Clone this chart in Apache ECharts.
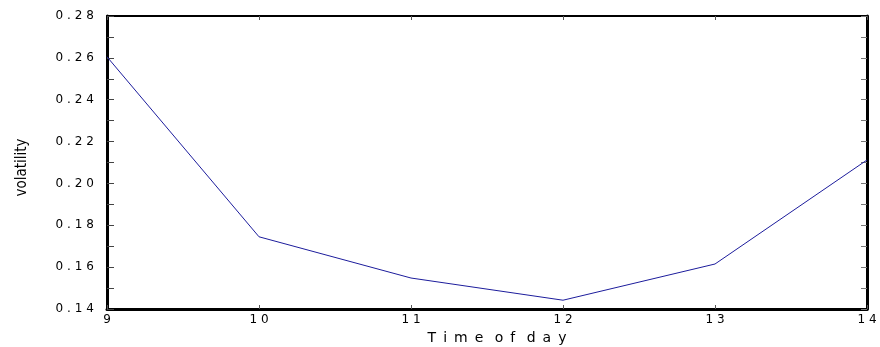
<!DOCTYPE html>
<html>
<head>
<meta charset="utf-8">
<script src="https://cdn.jsdelivr.net/npm/echarts@6/dist/echarts.min.js"></script>
<style>
  html, body { margin: 0; padding: 0; background: #fff; }
  #chart { width: 880px; height: 347px; }
</style>
</head>
<body>
<div id="chart"></div>
<script>
// hours of the day and the volatility
const hours = [9, 10, 11, 12, 13, 14];
const volatility = [0.2605, 0.1745, 0.1548, 0.1442, 0.1615, 0.2112];
const yTicks = [0.14, 0.16, 0.18, 0.20, 0.22, 0.24, 0.26, 0.28];

// the original uses very wide letter spacing
const spaced = (s, gap) => String(s).split(' ').map(w => w.split('').join(gap)).join(gap + ' ');
const labelFont = { fontFamily: 'DejaVu Sans', fontSize: 12, color: '#000' };

const chart = echarts.init(document.getElementById('chart'));

const option = {
  animation: false,
  grid: { left: 107, right: 13, top: 16, bottom: 38, outerBoundsMode: 'none', containLabel: false },
  xAxis: [
    {
      type: 'value',
      min: 9, max: 14, interval: 1,
      name: spaced('Time of day', '\u2002'),
      nameLocation: 'middle',
      nameGap: 22,
      nameTextStyle: { fontFamily: 'DejaVu Sans', fontSize: 14, color: '#000', padding: [0, 0, 0, 20] },
      axisLine: { show: true, onZero: false, lineStyle: { color: '#000', width: 3 } },
      axisTick: { show: true, inside: true, length: 4, lineStyle: { color: '#555' } },
      axisLabel: Object.assign({ margin: 5, formatter: v => spaced(v, '\u2004') }, labelFont),
      splitLine: { show: false }
    },
    {
      type: 'value', position: 'top',
      min: 9, max: 14, interval: 1,
      axisLine: { show: true, onZero: false, lineStyle: { color: '#000', width: 2 } },
      axisTick: { show: true, inside: true, length: 4, lineStyle: { color: '#555' } },
      axisLabel: { show: false },
      splitLine: { show: false }
    }
  ],
  yAxis: [
    {
      type: 'value',
      min: 0.14, max: 0.28, interval: 0.02,
      name: 'volatility',
      nameLocation: 'middle',
      nameGap: 77,
      nameRotate: 90,
      nameTextStyle: { fontFamily: "'Liberation Sans Narrow', 'DejaVu Sans Condensed', sans-serif", fontSize: 15, color: '#000', padding: [0, 10, 0, 0] },
      axisLine: { show: true, onZero: false, lineStyle: { color: '#000', width: 3 } },
      axisTick: { show: true, inside: true, length: 7, lineStyle: { color: '#444' } },
      minorTick: { show: true, splitNumber: 2, length: 7, lineStyle: { color: '#444' } },
      axisLabel: Object.assign({
        margin: 13,
        formatter: v => {
          const t = yTicks.find(x => Math.abs(x - v) < 1e-6);
          return t === undefined ? '' : spaced(t.toFixed(2), '\u2004');
        }
      }, labelFont),
      splitLine: { show: false }
    },
    {
      type: 'value', position: 'right',
      min: 0.14, max: 0.28, interval: 0.02,
      axisLine: { show: true, onZero: false, lineStyle: { color: '#000', width: 3 } },
      axisTick: { show: true, inside: true, length: 6, lineStyle: { color: '#777' } },
      minorTick: { show: true, splitNumber: 2, length: 6, lineStyle: { color: '#777' } },
      axisLabel: { show: false },
      splitLine: { show: false }
    }
  ],
  series: [{
    type: 'line',
    data: hours.map((h, i) => [h, volatility[i]]),
    showSymbol: false,
    lineStyle: { color: '#1c1c9c', width: 1 },
    silent: true
  }]
};

chart.setOption(option);
</script>
</body>
</html>
